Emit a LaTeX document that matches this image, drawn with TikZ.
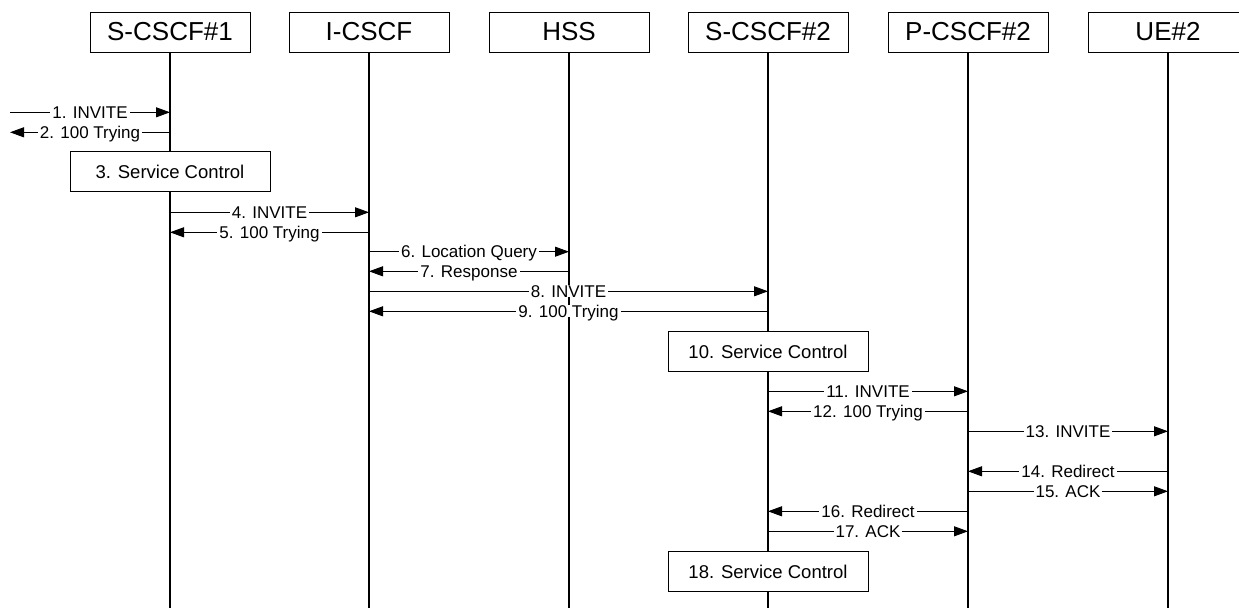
\documentclass[tikz,border=0pt]{standalone}
\usepackage{fontspec}
\setmainfont{Liberation Sans}
\usetikzlibrary{arrows.meta,positioning}

\tikzset{
  entity/.style={draw, line width=1pt, fill=white, minimum width=160, minimum height=40,
    inner sep=0pt, font=\fontsize{26}{30}\selectfont},
  service/.style={draw, line width=1pt, fill=white, minimum width=200, minimum height=40,
    inner sep=0pt, font=\fontsize{18.5}{22}\selectfont},
  life/.style={line width=1.2pt},
  msg/.style={line width=0.9pt, -{Triangle[length=14pt,width=10pt]}},
  lbl/.style={midway, fill=white, inner xsep=2pt, inner ysep=0pt, text height=12.2pt,
    text depth=0pt, font=\fontsize{17}{20}\selectfont}
}

\begin{document}
\begin{tikzpicture}[x=1pt, y=-1pt]
      \useasboundingbox (0,0) rectangle (1239,608);
      \clip (0,0) rectangle (1239,608);

      \node[entity] (S1) at (170, 32) {S-CSCF\#1};
      \node[entity] (I) at (369, 32) {I-CSCF};
      \node[entity] (HSS) at (569, 32) {HSS};
      \node[entity] (S2) at (768, 32) {S-CSCF\#2};
      \node[entity] (P2) at (968, 32) {P-CSCF\#2};
      \node[entity] (UE) at (1168, 32) {UE\#2};

      % Define the lifelines
      \coordinate (S1_end) at (170, 608);
      \coordinate (I_end) at (369, 608);
      \coordinate (HSS_end) at (569, 608);
      \coordinate (S2_end) at (768, 608);
      \coordinate (P2_end) at (968, 608);
      \coordinate (UE_end) at (1168, 608);
      \draw[life] (S1) -- (S1_end);
      \draw[life] (I) -- (I_end);
      \draw[life] (HSS) -- (HSS_end);
      \draw[life] (S2) -- (S2_end);
      \draw[life] (P2) -- (P2_end);
      \draw[life] (UE) -- (UE_end);

      \node[service] (SC3) at (170, 171.7) {3. Service Control};
      \node[service] (SC10) at (768, 351.5) {10. Service Control};
      \node[service] (SC18) at (768, 571.5) {18. Service Control};

      % Define the messages
      \coordinate (ext_1) at (10, 112.3);
      \coordinate (S1_1) at (170, 112.3);
      \draw[msg] (ext_1) -- node[lbl] {1. INVITE} (S1_1);
      \coordinate (ext_2) at (10, 132.3);
      \coordinate (S1_2) at (170, 132.3);
      \draw[msg] (S1_2) -- node[lbl] {2. 100 Trying} (ext_2);

      \coordinate (S1_4) at (170, 212.3);
      \coordinate (I_4) at (369, 212.3);
      \draw[msg] (S1_4) -- node[lbl] {4. INVITE} (I_4);
      \coordinate (S1_5) at (170, 232.3);
      \coordinate (I_5) at (369, 232.3);
      \draw[msg] (I_5) -- node[lbl] {5. 100 Trying} (S1_5);

      \coordinate (I_6) at (369, 251.7);
      \coordinate (HSS_6) at (569, 251.7);
      \draw[msg] (I_6) -- node[lbl] {6. Location Query} (HSS_6);
      \coordinate (I_7) at (369, 271.3);
      \coordinate (HSS_7) at (569, 271.3);
      \draw[msg] (HSS_7) -- node[lbl] {7. Response} (I_7);

      \coordinate (I_8) at (369, 291.3);
      \coordinate (S2_8) at (768, 291.3);
      \draw[msg] (I_8) -- node[lbl] {8. INVITE} (S2_8);
      \coordinate (I_9) at (369, 311.3);
      \coordinate (S2_9) at (768, 311.3);
      \draw[msg] (S2_9) -- node[lbl] {9. 100 Trying} (I_9);

      \coordinate (S2_11) at (768, 391.3);
      \coordinate (P2_11) at (968, 391.3);
      \draw[msg] (S2_11) -- node[lbl] {11. INVITE} (P2_11);
      \coordinate (S2_12) at (768, 411.3);
      \coordinate (P2_12) at (968, 411.3);
      \draw[msg] (P2_12) -- node[lbl] {12. 100 Trying} (S2_12);

      \coordinate (P2_13) at (968, 431.3);
      \coordinate (UE_13) at (1168, 431.3);
      \draw[msg] (P2_13) -- node[lbl] {13. INVITE} (UE_13);
      \coordinate (P2_14) at (968, 471.3);
      \coordinate (UE_14) at (1168, 471.3);
      \draw[msg] (UE_14) -- node[lbl] {14. Redirect} (P2_14);
      \coordinate (P2_15) at (968, 491.3);
      \coordinate (UE_15) at (1168, 491.3);
      \draw[msg] (P2_15) -- node[lbl] {15. ACK} (UE_15);

      \coordinate (S2_16) at (768, 511.3);
      \coordinate (P2_16) at (968, 511.3);
      \draw[msg] (P2_16) -- node[lbl] {16. Redirect} (S2_16);
      \coordinate (S2_17) at (768, 531.3);
      \coordinate (P2_17) at (968, 531.3);
      \draw[msg] (S2_17) -- node[lbl] {17. ACK} (P2_17);
\end{tikzpicture}
\end{document}
